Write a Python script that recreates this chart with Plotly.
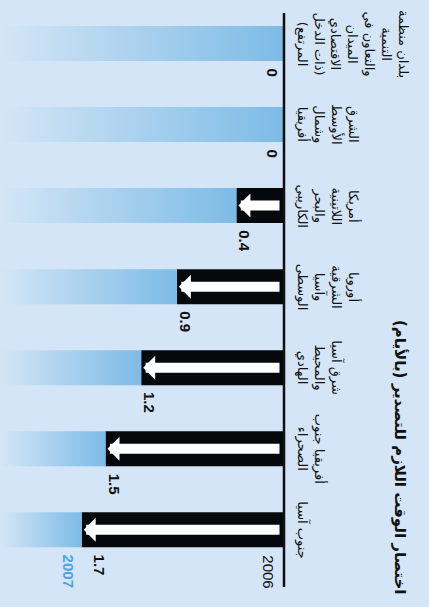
import plotly.graph_objects as go

# ---------------- data ----------------
category_lines = [
    ["بلدان منظمة", "التنمية", "والتعاون في", "الميدان", "الاقتصادي", "(ذات الدخل", "المرتفع)"],
    ["الشرق", "الأوسط", "وشمال", "أفريقيا"],
    ["أمريكا", "اللاتينية", "والبحر", "الكاريبي"],
    ["أوروبا", "الشرقية", "وآسيا", "الوسطى"],
    ["شرق آسيا", "والمحيط", "الهادي"],
    ["أفريقيا جنوب", "الصحراء"],
    ["جنوب آسيا"],
]
reduction_days = [0, 0, 0.4, 0.9, 1.2, 1.5, 1.7]
value_labels = ["0", "0", "0.4", "0.9", "1.2", "1.5", "1.7"]
title_text = "اختصار الوقت اللازم للتصدير (بالأيام)"
year_2006 = "2006"
year_2007 = "2007"

RLM = "\u200f"


def rtl(s):
    return RLM + s + RLM


categories = ["<br>".join(rtl(l) for l in lines) for lines in category_lines]

# ---------------- style ----------------
BG = "#d3e5f6"
GRAD_LIGHT = "#d4e6f6"
GRAD_DARK = "#7dbbe6"
BLACK = "#05090b"
BLUE_TXT = "#4aa6e0"
AR_FONT = "DejaVu Sans"
NUM_FONT = "Liberation Sans"

PX_PER_DAY = 119.0
AXIS_PX = 284.0
W, H, BOT = 429, 613, 6
XL = AXIS_PX / PX_PER_DAY
XR = -(W - AXIS_PX) / PX_PER_DAY
PITCH = 81.05
FIRST = 43.5
YT = -FIRST / PITCH
YB = (H - BOT - FIRST) / PITCH
HALF = 0.432 / 2

idx = list(range(len(categories)))

fig = go.Figure()

# gradient bars (2007 remaining time)
for i, v in zip(idx, reduction_days):
    fig.add_trace(go.Scatter(
        x=[XL, v, v, XL, XL],
        y=[i - HALF, i - HALF, i + HALF, i + HALF, i - HALF],
        mode="lines", fill="toself", line=dict(width=0),
        fillgradient=dict(type="horizontal",
                          colorscale=[[0, GRAD_LIGHT], [1, GRAD_DARK]],
                          start=XL, stop=v),
        hoverinfo="skip", showlegend=False,
    ))

# black reduction bars
fig.add_trace(go.Bar(
    x=reduction_days, y=idx, orientation="h", width=2 * HALF,
    marker=dict(color=BLACK, line=dict(width=0)),
    hoverinfo="skip", showlegend=False,
))

annotations = []
for i, v, lab, cat in zip(idx, reduction_days, value_labels, categories):
    # white arrows inside black bars
    if v > 0:
        annotations.append(dict(
            x=v - 2 / PX_PER_DAY, y=i, ax=3 / PX_PER_DAY, ay=i,
            xref="x", yref="y", axref="x", ayref="y",
            text="", showarrow=True, arrowhead=1, arrowsize=0.4,
            arrowwidth=10, arrowcolor="white", standoff=0, startstandoff=0,
        ))
    # value labels
    if v > 0:
        xa, xs = "left", -2
        if i == idx[-1]:
            xs = 7
    else:
        xa, xs = "right", -1
    annotations.append(dict(
        x=v, y=i + HALF, xref="x", yref="y", text=lab, showarrow=False,
        textangle=90, xanchor=xa, yanchor="top", xshift=xs, yshift=-5,
        font=dict(family=NUM_FONT, size=15, color="#111111", weight="bold"),
    ))
    # category labels
    annotations.append(dict(
        x=0, y=i, xref="x", yref="y", text=cat, showarrow=False,
        textangle=90, xanchor="left", yanchor="middle", xshift=8,
        align="center",
        font=dict(family=AR_FONT, size=13, color="#111111"),
    ))

# year labels
annotations.append(dict(
    x=0, y=idx[-1] + HALF, xref="x", yref="y", text=year_2006, showarrow=False,
    textangle=90, xanchor="right", yanchor="top", xshift=-5, yshift=-6,
    font=dict(family=NUM_FONT, size=15, color="#111111"),
))
annotations.append(dict(
    x=reduction_days[-1], y=idx[-1] + HALF, xref="x", yref="y", text=year_2007,
    showarrow=False, textangle=90, xanchor="right", yanchor="top",
    xshift=-3, yshift=-5,
    font=dict(family=NUM_FONT, size=15, color=BLUE_TXT, weight="bold"),
))

# title
annotations.append(dict(
    x=400 / W, y=(H - BOT - 457) / (H - BOT), xref="paper", yref="paper",
    text=rtl(title_text), showarrow=False, textangle=90,
    xanchor="center", yanchor="middle",
    font=dict(family=AR_FONT, size=15, color="#111111", weight="bold"),
))

fig.update_layout(
    width=W, height=H,
    margin=dict(l=0, r=0, t=0, b=BOT, pad=0),
    paper_bgcolor="white", plot_bgcolor=BG,
    showlegend=False, barmode="overlay",
    xaxis=dict(range=[XL, XR], visible=False, fixedrange=True),
    yaxis=dict(range=[YB, YT], visible=False, fixedrange=True),
    annotations=annotations,
    shapes=[dict(type="line", xref="x", yref="y", x0=0, x1=0,
                 y0=-0.376, y1=6.706, line=dict(color="#111111", width=2.5),
                 layer="above")],
)

fig.write_html(
    "out.html",
    config={"displayModeBar": False},
    post_script="document.body.style.margin='0';document.body.style.padding='0';",
)
